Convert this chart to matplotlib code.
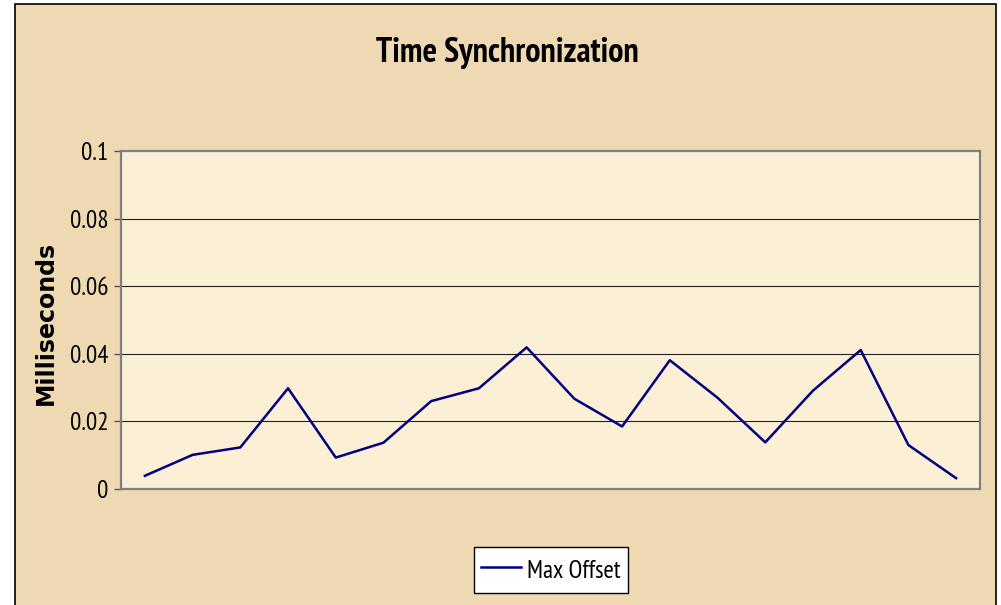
import matplotlib
matplotlib.use("Agg")
import matplotlib.pyplot as plt
from matplotlib.patches import Rectangle

categories = list(range(1, 19))
max_offset = [0.0039, 0.0101, 0.0123, 0.0298, 0.0093, 0.0137, 0.0260, 0.0298, 0.0419,
              0.0267, 0.0185, 0.0381, 0.0270, 0.0138, 0.0291, 0.0411, 0.0130, 0.0032]
yticks = [0, 0.02, 0.04, 0.06, 0.08, 0.1]
ytick_labels = ["0", "0.02", "0.04", "0.06", "0.08", "0.1"]

narrow = ["PT Sans Narrow", "Archivo Narrow", "DejaVu Sans"]
wide = ["DejaVu Sans"]

W, H = 1001, 605
fig = plt.figure(figsize=(W / 100, H / 100), dpi=100, facecolor="white")

# outer chart area with frame
bg = Rectangle((15 / W, -0.01), (996 - 15) / W, (H - 4) / H + 0.01, transform=fig.transFigure,
               facecolor="#eed9b2", edgecolor="black", linewidth=1.2, zorder=-10)
fig.patches.append(bg)

ax = fig.add_axes([121 / W, (H - 489) / H, (980 - 121) / W, (489 - 151) / H])
ax.set_facecolor("#fbefd6")
ax.plot(categories, max_offset, color="#000080", linewidth=1.8, label="Max Offset", zorder=3)

ax.set_xlim(0.5, 18.5)
ax.set_ylim(0, 0.1)
ax.set_yticks(yticks)
ax.set_yticklabels(ytick_labels, fontfamily=narrow, fontsize=18)
ax.set_xticks([])
ax.tick_params(axis="y", direction="out", length=5, width=1, color="#555555", pad=4)
for y in yticks[1:-1]:
    ax.axhline(y, color="#222222", linewidth=0.8, zorder=1)
for s in ax.spines.values():
    s.set_color("#808080")
    s.set_linewidth(1.6)

ax.set_ylabel("Milliseconds", fontfamily=wide, fontweight="bold", fontsize=17)
ax.yaxis.set_label_coords((58 - 121) / 859, 0.49)

fig.text(507 / W, 1 - 53 / H, "Time Synchronization", ha="center", va="center",
         fontfamily=narrow, fontweight="bold", fontsize=24.5)

leg = ax.legend(loc="center", bbox_to_anchor=(551 / W, 1 - 570 / H), bbox_transform=fig.transFigure,
                frameon=True, fancybox=False, framealpha=1, edgecolor="black",
                prop={"family": narrow, "size": 18}, handlelength=1.6, handleheight=1.5,
                handletextpad=0.25, borderpad=0.3, borderaxespad=0)
leg.get_frame().set_linewidth(1.0)
leg.get_frame().set_facecolor("white")

fig.savefig("out.png", dpi=100, facecolor=fig.get_facecolor())
